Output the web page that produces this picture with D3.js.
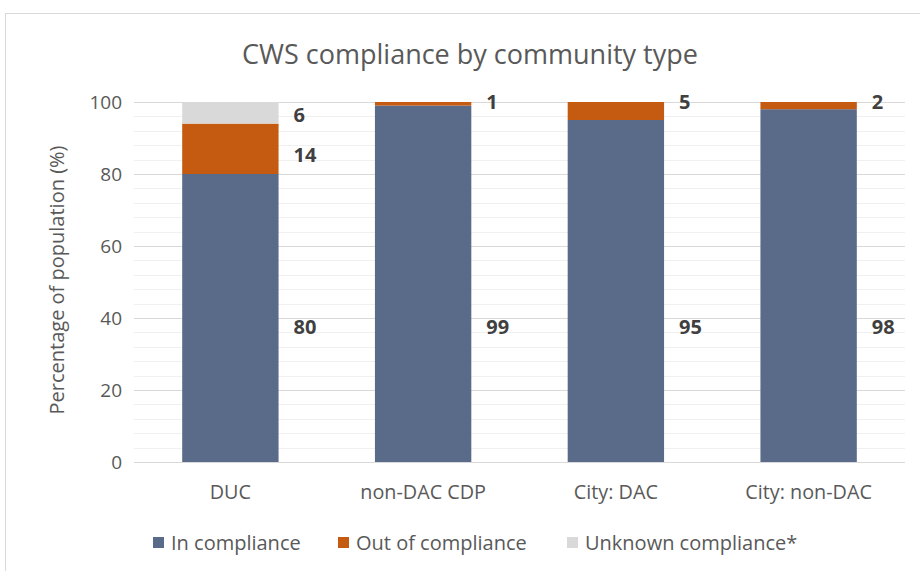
<!DOCTYPE html>
<html>
<head>
<meta charset="utf-8">
<script src="https://cdn.jsdelivr.net/npm/d3@7"></script>
<style>
  body { margin: 0; background: #fff; }
  svg { font-family: "Open Sans", "Noto Sans", sans-serif; }
</style>
</head>
<body>
<div id="chart"></div>
<script>
// data
const categories = ["DUC", "non-DAC CDP", "City: DAC", "City: non-DAC"];
const seriesNames = ["In compliance", "Out of compliance", "Unknown compliance*"];
const inCompliance = [80, 99, 95, 98];
const outCompliance = [14, 1, 5, 2];
const unknownCompliance = [6, 0, 0, 0];
const yTicks = [0, 20, 40, 60, 80, 100];

const colors = ["#5a6b8a", "#c55a11", "#d9d9d9"];

function drawChart() {
  const width = 920, height = 571;
  const margin = { top: 102, right: 15, bottom: 109, left: 134 };

  const svg = d3.select("#chart").append("svg")
    .attr("width", width)
    .attr("height", height);

  // outer frame of the chart area
  svg.append("rect")
    .attr("x", 5.5).attr("y", 13.5)
    .attr("width", 940).attr("height", 600)
    .attr("fill", "none")
    .attr("stroke", "#d9d9d9");

  const rows = categories.map((c, i) => ({
    cat: c,
    "In compliance": inCompliance[i],
    "Out of compliance": outCompliance[i],
    "Unknown compliance*": unknownCompliance[i]
  }));
  const stacked = d3.stack().keys(seriesNames)(rows);

  const x = d3.scaleBand()
    .domain(categories)
    .range([margin.left, width - margin.right])
    .paddingInner(0.5)
    .paddingOuter(0.25);

  const y = d3.scaleLinear()
    .domain([0, 100])
    .range([height - margin.bottom, margin.top]);

  // minor gridlines every 4
  svg.append("g")
    .selectAll("line")
    .data(d3.range(0, 101, 4).filter(v => v % 20 !== 0))
    .enter().append("line")
    .attr("x1", margin.left).attr("x2", width - margin.right)
    .attr("y1", d => Math.round(y(d)) + 0.5).attr("y2", d => Math.round(y(d)) + 0.5)
    .attr("stroke", "#f0f0f0");

  // major gridlines
  svg.append("g")
    .selectAll("line")
    .data(yTicks)
    .enter().append("line")
    .attr("x1", margin.left).attr("x2", width - margin.right)
    .attr("y1", d => Math.round(y(d)) + 0.5).attr("y2", d => Math.round(y(d)) + 0.5)
    .attr("stroke", "#d9d9d9");

  // bars
  svg.append("g")
    .selectAll("g")
    .data(stacked)
    .enter().append("g")
    .attr("fill", (d, i) => colors[i])
    .selectAll("rect")
    .data(d => d)
    .enter().append("rect")
    .attr("x", d => x(d.data.cat))
    .attr("y", d => y(d[1]))
    .attr("width", x.bandwidth())
    .attr("height", d => y(d[0]) - y(d[1]));

  // y tick labels
  svg.append("g")
    .selectAll("text")
    .data(yTicks)
    .enter().append("text")
    .attr("x", margin.left - 12)
    .attr("y", d => y(d))
    .attr("dy", "0.35em")
    .attr("text-anchor", "end")
    .attr("font-size", 19)
    .attr("fill", "#595959")
    .text(d => d);

  // x labels
  svg.append("g")
    .selectAll("text")
    .data(categories)
    .enter().append("text")
    .attr("x", d => x(d) + x.bandwidth() / 2)
    .attr("y", height - margin.bottom + 37)
    .attr("text-anchor", "middle")
    .attr("font-size", 19.8)
    .attr("fill", "#595959")
    .text(d => d);

  // y axis title
  svg.append("text")
    .attr("transform", `translate(64,${y(50) - 2}) rotate(-90)`)
    .attr("text-anchor", "middle")
    .attr("font-size", 20)
    .attr("fill", "#595959")
    .text("Percentage of population (%)");

  // chart title
  svg.append("text")
    .attr("x", 470)
    .attr("y", 64)
    .attr("text-anchor", "middle")
    .attr("font-size", 27)
    .attr("fill", "#595959")
    .text("CWS compliance by community type");

  // value labels, right of each bar
  const labelG = svg.append("g")
    .attr("font-size", 20)
    .attr("font-weight", "bold")
    .attr("fill", "#404040");
  const lx = d => x(d.data.cat) + x.bandwidth() + 15;
  // main labels sit low in the blue bar
  labelG.selectAll("text.main")
    .data(stacked[0])
    .enter().append("text")
    .attr("class", "main")
    .attr("x", lx)
    .attr("y", y(37.5))
    .attr("dy", "0.35em")
    .text(d => d.data["In compliance"]);
  // top segments
  labelG.selectAll("text.out")
    .data(stacked[1])
    .enter().append("text")
    .attr("class", "out")
    .attr("x", lx)
    .attr("y", d => d.data["Unknown compliance*"] > 0 ? y((d[0] + d[1]) / 2) + 6 : y(d[1]))
    .attr("dy", "0.35em")
    .text(d => d.data["Out of compliance"]);
  labelG.selectAll("text.unk")
    .data(stacked[2].filter(d => d.data["Unknown compliance*"] > 0))
    .enter().append("text")
    .attr("class", "unk")
    .attr("x", lx)
    .attr("y", d => y((d[0] + d[1]) / 2) + 2)
    .attr("dy", "0.35em")
    .text(d => d.data["Unknown compliance*"]);

  // legend
  const legendX = [153, 338, 567];
  const legend = svg.append("g")
    .selectAll("g")
    .data(seriesNames)
    .enter().append("g")
    .attr("transform", (d, i) => `translate(${legendX[i]},543)`);
  legend.append("rect")
    .attr("x", 0).attr("y", -6)
    .attr("width", 11).attr("height", 11)
    .attr("fill", (d, i) => colors[i]);
  legend.append("text")
    .attr("x", 18)
    .attr("y", 0)
    .attr("dy", "0.35em")
    .attr("font-size", 20)
    .attr("fill", "#595959")
    .text(d => d);
}

drawChart();
</script>
</body>
</html>
